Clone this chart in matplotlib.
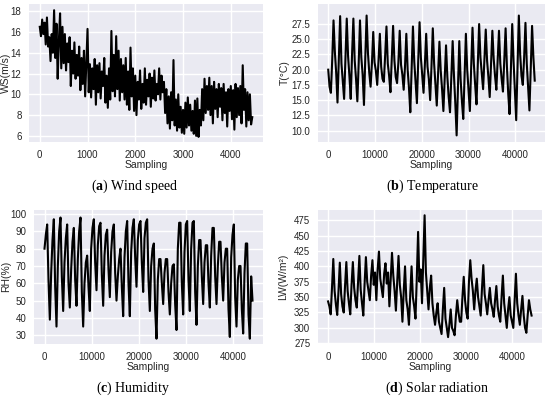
#!/usr/bin/env python3
"""
Four meteorological series (wind speed, temperature, humidity, solar radiation)
drawn in a seaborn-like darkgrid style, saved as out.png
"""

import numpy as np
import matplotlib
matplotlib.use("Agg")
import matplotlib.pyplot as plt

# =====================================
# Data
# =====================================
# wind speed, one value every 25 samples
WS_STEP = 25
WS = [
    16.5, 15.6, 17.2, 15.8, 16.9, 14.8, 17.4, 14.6,
    15.5, 13.2, 15.8, 14.0, 18.1, 13.5, 16.8, 11.5,
    15.2, 17.8, 12.5, 16.5, 13.0, 15.8, 12.3, 14.9,
    13.1, 15.5, 10.8, 14.2, 12.0, 15.0, 11.5, 13.8,
    11.8, 14.6, 10.4, 13.5, 11.0, 14.2, 9.8, 13.2,
    16.3, 10.2, 12.9, 9.7, 12.5, 10.5, 13.4, 9.0,
    12.8, 10.2, 13.0, 9.6, 12.2, 10.8, 13.5, 9.2,
    11.8, 8.7, 12.5, 9.5, 16.1, 10.3, 13.8, 9.8,
    15.6, 10.5, 14.2, 9.4, 13.4, 10.2, 12.8, 9.5,
    13.5, 9.0, 12.2, 8.5, 14.5, 9.8, 12.5, 8.4,
    11.8, 8.0, 11.2, 9.5, 12.3, 8.6, 11.0, 9.2,
    12.5, 9.0, 11.4, 9.8, 12.0, 8.8, 11.6, 9.6,
    12.3, 9.4, 11.0, 10.0, 12.5, 9.5, 11.8, 10.2,
    11.2, 8.2, 10.5, 7.2, 9.8, 6.7, 10.2, 7.5,
    13.3, 7.0, 9.5, 6.5, 10.0, 6.8, 8.8, 6.3,
    8.5, 6.2, 9.2, 6.8, 9.7, 7.0, 9.0, 6.5,
    8.4, 6.2, 9.4, 6.0, 9.6, 5.9, 8.5, 7.0,
    10.5, 7.5, 11.5, 8.2, 10.8, 8.5, 11.6, 8.0,
    10.8, 7.2, 11.2, 8.6, 10.5, 7.8, 11.0, 8.8,
    10.6, 7.5, 11.0, 8.2, 10.2, 6.9, 10.5, 8.4,
    10.8, 7.6, 10.4, 6.6, 11.0, 7.8, 10.6, 8.0,
    10.8, 7.2, 12.8, 8.5, 10.5, 6.9, 10.2, 7.5,
    10.0, 7.1, 7.8,
]

# the other three series, one value every 283 samples (about 5 per day)
DAY_STEP = 283
TEMP = [
    20.0, 17.2,
    16.2, 21.5, 28.1, 23.0, 19.5,
    14.6, 22.0, 28.8, 21.0, 18.2,
    15.2, 21.8, 28.4, 22.2, 19.0,
    15.2, 22.5, 28.4, 21.5, 18.5,
    14.8, 21.0, 28.1, 22.0, 19.2,
    14.2, 22.0, 28.9, 22.8, 19.5,
    17.2, 21.0, 26.2, 21.2, 19.8,
    17.5, 21.5, 25.9, 20.5, 18.5,
    18.0, 22.3, 27.1, 21.0, 19.0,
    16.3, 21.8, 27.2, 21.5, 18.8,
    17.8, 21.2, 26.4, 20.8, 19.2,
    16.7, 20.5, 25.9, 20.0, 17.0,
    13.0, 20.2, 27.1, 21.3, 18.0,
    14.5, 21.5, 27.8, 22.0, 19.0,
    16.2, 20.8, 25.9, 20.5, 18.5,
    15.0, 20.5, 26.8, 21.0, 17.5,
    14.1, 19.5, 24.6, 19.8, 16.8,
    13.2, 18.5, 24.0, 18.8, 15.5,
    13.0, 18.8, 24.7, 19.0, 14.5,
    9.2, 17.0, 24.7, 18.5, 14.8,
    11.9, 19.0, 25.9, 20.0, 16.5,
    13.2, 20.5, 26.9, 21.0, 17.5,
    14.3, 21.0, 27.5, 22.0, 19.5,
    16.8, 21.8, 26.6, 21.5, 18.8,
    15.5, 21.0, 26.4, 21.8, 19.0,
    16.7, 21.5, 26.4, 21.0, 18.5,
    16.4, 21.5, 26.8, 20.5, 16.0,
    12.7, 20.0, 27.5, 21.5, 16.5,
    11.7, 20.5, 28.9, 22.5, 19.0,
    17.5, 22.0, 27.7, 21.0, 17.0,
    13.3, 20.0, 27.2, 22.0, 18.2,
]

RH = [
    80, 88,
    94, 62, 39, 66, 85,
    97, 58, 35, 70, 90,
    98, 64, 44, 72, 86,
    94, 60, 46, 68, 84,
    92, 62, 47, 74, 90,
    98, 55, 35, 60, 72,
    76, 58, 44, 80, 92,
    97, 72, 56, 82, 93,
    95, 65, 47, 76, 88,
    91, 68, 52, 78, 90,
    94, 66, 50, 64, 74,
    80, 58, 41, 75, 90,
    96, 60, 41, 78, 92,
    97, 75, 58, 85, 94,
    96, 72, 55, 86, 95,
    97, 62, 44, 70, 80,
    83, 45, 28, 62, 74,
    74, 60, 48, 66, 74,
    74, 55, 42, 60, 70,
    71, 48, 33, 80, 95,
    95, 60, 42, 78, 94,
    96, 62, 44, 80, 95,
    96, 55, 36, 70, 85,
    85, 64, 48, 72, 82,
    82, 60, 46, 76, 92,
    92, 64, 48, 70, 84,
    84, 64, 50, 72, 80,
    80, 45, 29, 75, 88,
    94, 52, 35, 62, 70,
    70, 45, 31, 66, 83,
    83, 42, 28, 64, 50,
]

LW = [
    343, 335,
    322, 365, 412, 360, 338,
    321, 360, 406, 355, 335,
    325, 368, 407, 360, 340,
    322, 370, 407, 365, 345,
    333, 375, 417, 362, 340,
    320, 372, 415, 375, 360,
    345, 385, 410, 370, 390,
    345, 395, 424, 380, 365,
    350, 388, 405, 372, 390,
    335, 380, 422, 385, 360,
    328, 375, 417, 370, 350,
    310, 360, 400, 345, 330,
    305, 355, 400, 350, 335,
    315, 380, 456, 375, 395,
    340, 410, 483, 390, 360,
    330, 365, 385, 340, 320,
    305, 325, 340, 310, 300,
    290, 330, 365, 315, 300,
    285, 305, 330, 300, 295,
    288, 320, 345, 325, 310,
    310, 350, 383, 345, 325,
    315, 375, 410, 380, 360,
    330, 360, 380, 350, 335,
    320, 365, 402, 355, 340,
    322, 345, 365, 340, 330,
    318, 345, 368, 335, 320,
    310, 350, 385, 340, 320,
    300, 330, 350, 320, 310,
    300, 345, 388, 340, 320,
    305, 330, 352, 320, 300,
    292, 320, 345, 330, 320,
]

# =====================================
# Style
# =====================================
plt.rcParams.update({
    "font.family": ["Liberation Sans", "DejaVu Sans"],
    "axes.facecolor": "#EAEAF2",
    "axes.edgecolor": "white",
    "axes.grid": True,
    "grid.color": "white",
    "grid.linewidth": 1.0,
    "axes.axisbelow": True,
    "xtick.bottom": False,
    "ytick.left": False,
    "xtick.color": "#262626",
    "ytick.color": "#262626",
    "axes.labelcolor": "#262626",
    "xtick.labelsize": 7,
    "ytick.labelsize": 7,
    "axes.labelsize": 7.5,
    "mathtext.fontset": "custom",
    "mathtext.rm": "Liberation Serif",
    "mathtext.bf": "Liberation Serif:bold",
})

fig = plt.figure(figsize=(5.5, 3.98), dpi=100)

# rect [left, bottom, width, height], ylabel x in axes coords, caption (x, baseline)
panels = [
    ([0.053, 0.643, 0.425, 0.347], WS, WS_STEP, "WS(m/s)", (5.4, 18.7),
     np.arange(6, 19, 2), "{:.0f}", [0, 1000, 2000, 3000, 4000], -0.077,
     r"($\mathbf{a}$) Wind speed", (0.244, 0.523)),
    ([0.578, 0.643, 0.413, 0.347], TEMP, DAY_STEP, "T(°C)", (8.1, 30.8),
     np.arange(10, 28, 2.5), "{:.1f}", [0, 10000, 20000, 30000, 40000], -0.123,
     r"($\mathbf{b}$) Temperature", (0.787, 0.523)),
    ([0.062, 0.136, 0.416, 0.337], RH, DAY_STEP, "RH(%)", (25, 102.5),
     np.arange(30, 101, 10), "{:.0f}", [0, 10000, 20000, 30000, 40000], -0.102,
     r"($\mathbf{c}$) Humidity", (0.241, 0.015)),
    ([0.578, 0.136, 0.407, 0.337], LW, DAY_STEP, "LW(W/m²)", (274, 492),
     np.arange(275, 476, 25), "{:.0f}", [0, 10000, 20000, 30000, 40000], -0.134,
     r"($\mathbf{d}$) Solar radiation", (0.795, 0.015)),
]

for rect, vals, step, ylabel, ylim, yticks, yfmt, xticks, ylx, caption, cpos in panels:
    ax = fig.add_axes(rect)
    x = np.arange(len(vals)) * step
    ax.plot(x, vals, color="black", linewidth=1.5)
    ax.set_ylim(*ylim)
    ax.set_yticks(yticks)
    ax.set_yticklabels([yfmt.format(v) for v in yticks])
    ax.set_xticks(xticks)
    ax.set_xlabel("Sampling", labelpad=0)
    ax.set_ylabel(ylabel)
    ax.yaxis.set_label_coords(ylx, 0.5)
    ax.tick_params(pad=2)
    for s in ax.spines.values():
        s.set_visible(False)
    fig.text(cpos[0], cpos[1], caption, ha="center", va="baseline",
             fontsize=10, family="Liberation Serif")

fig.savefig("out.png", dpi=100)
